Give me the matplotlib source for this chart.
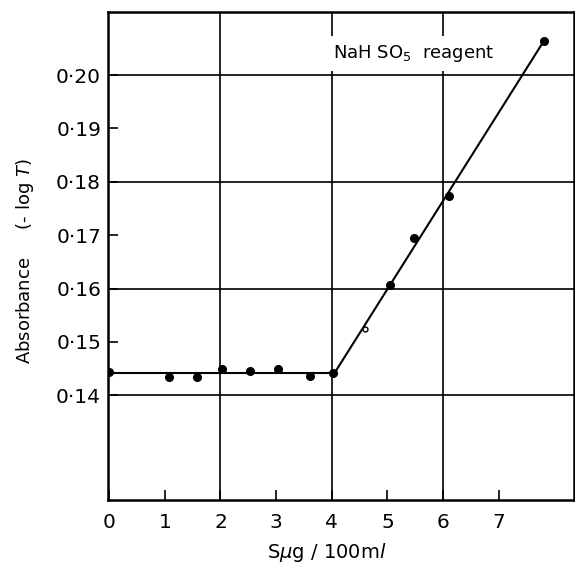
import matplotlib.pyplot as plt

# Calibration with NaHSO3 reagent: absorbance vs sulphur concentration
s_ug = [0.0, 1.07, 1.58, 2.03, 2.53, 3.03, 3.60, 4.03, 5.04, 5.47, 6.11, 7.81]
absorb = [0.1443, 0.1434, 0.1434, 0.1450, 0.1445, 0.1450, 0.1436, 0.1441,
          0.1607, 0.1695, 0.1774, 0.2064]
# one reading drawn as an open circle
open_x = [4.59]
open_y = [0.1525]

# fitted lines: flat blank level, then linear rise
flat_x = [0.0, 4.05]
flat_y = [0.1442, 0.1442]
rise_x = [4.05, 7.81]
rise_y = [0.1442, 0.2064]

xticks = [0, 1, 2, 3, 4, 5, 6, 7]
yticks = [0.14, 0.15, 0.16, 0.17, 0.18, 0.19, 0.20]
ylabels = ["0·14", "0·15", "0·16", "0·17", "0·18", "0·19", "0·20"]

fig = plt.figure(figsize=(5.75, 5.72), dpi=100)
ax = fig.add_axes([108 / 575, 72 / 572, 466 / 575, 488 / 572])

for gx in [2, 4, 6]:
    ax.axvline(gx, color='k', lw=1.2, zorder=1)
for gy in [0.14, 0.16, 0.18, 0.20]:
    ax.axhline(gy, color='k', lw=1.2, zorder=1)

ax.plot(flat_x, flat_y, color='k', lw=1.5, zorder=2)
ax.plot(rise_x, rise_y, color='k', lw=1.5, zorder=2)
ax.plot(s_ug, absorb, 'o', color='k', ms=5.5, zorder=3)
ax.plot(open_x, open_y, 'o', mfc='white', mec='k', ms=3.5, mew=1.0, zorder=3)

ax.set_xlim(-0.02, 8.35)
ax.set_ylim(0.1204, 0.2118)
ax.set_xticks(xticks)
ax.set_xticklabels([str(v) for v in xticks])
ax.set_yticks(yticks)
ax.set_yticklabels(ylabels)
ax.tick_params(direction='in', length=7, width=1.2, labelsize=14.5, pad=9)
ax.tick_params(axis='y', pad=5)
for sp in ax.spines.values():
    sp.set_linewidth(1.8)

ax.text(5.47, 0.2040, r"NaH SO$_5$  reagent", fontsize=13, ha='center', va='center',
        bbox=dict(facecolor='white', edgecolor='none', pad=5), zorder=4)

ax.set_xlabel(r"S$\mu$g / 100m$\it{l}$", fontsize=14, va='center')
ax.xaxis.set_label_coords(0.47, -0.108)
ax.set_ylabel(r"Absorbance     (- log $\it{T}$)", fontsize=13, va='center')
ax.yaxis.set_label_coords(-0.178, 0.49)

fig.savefig("out.png", dpi=100)
